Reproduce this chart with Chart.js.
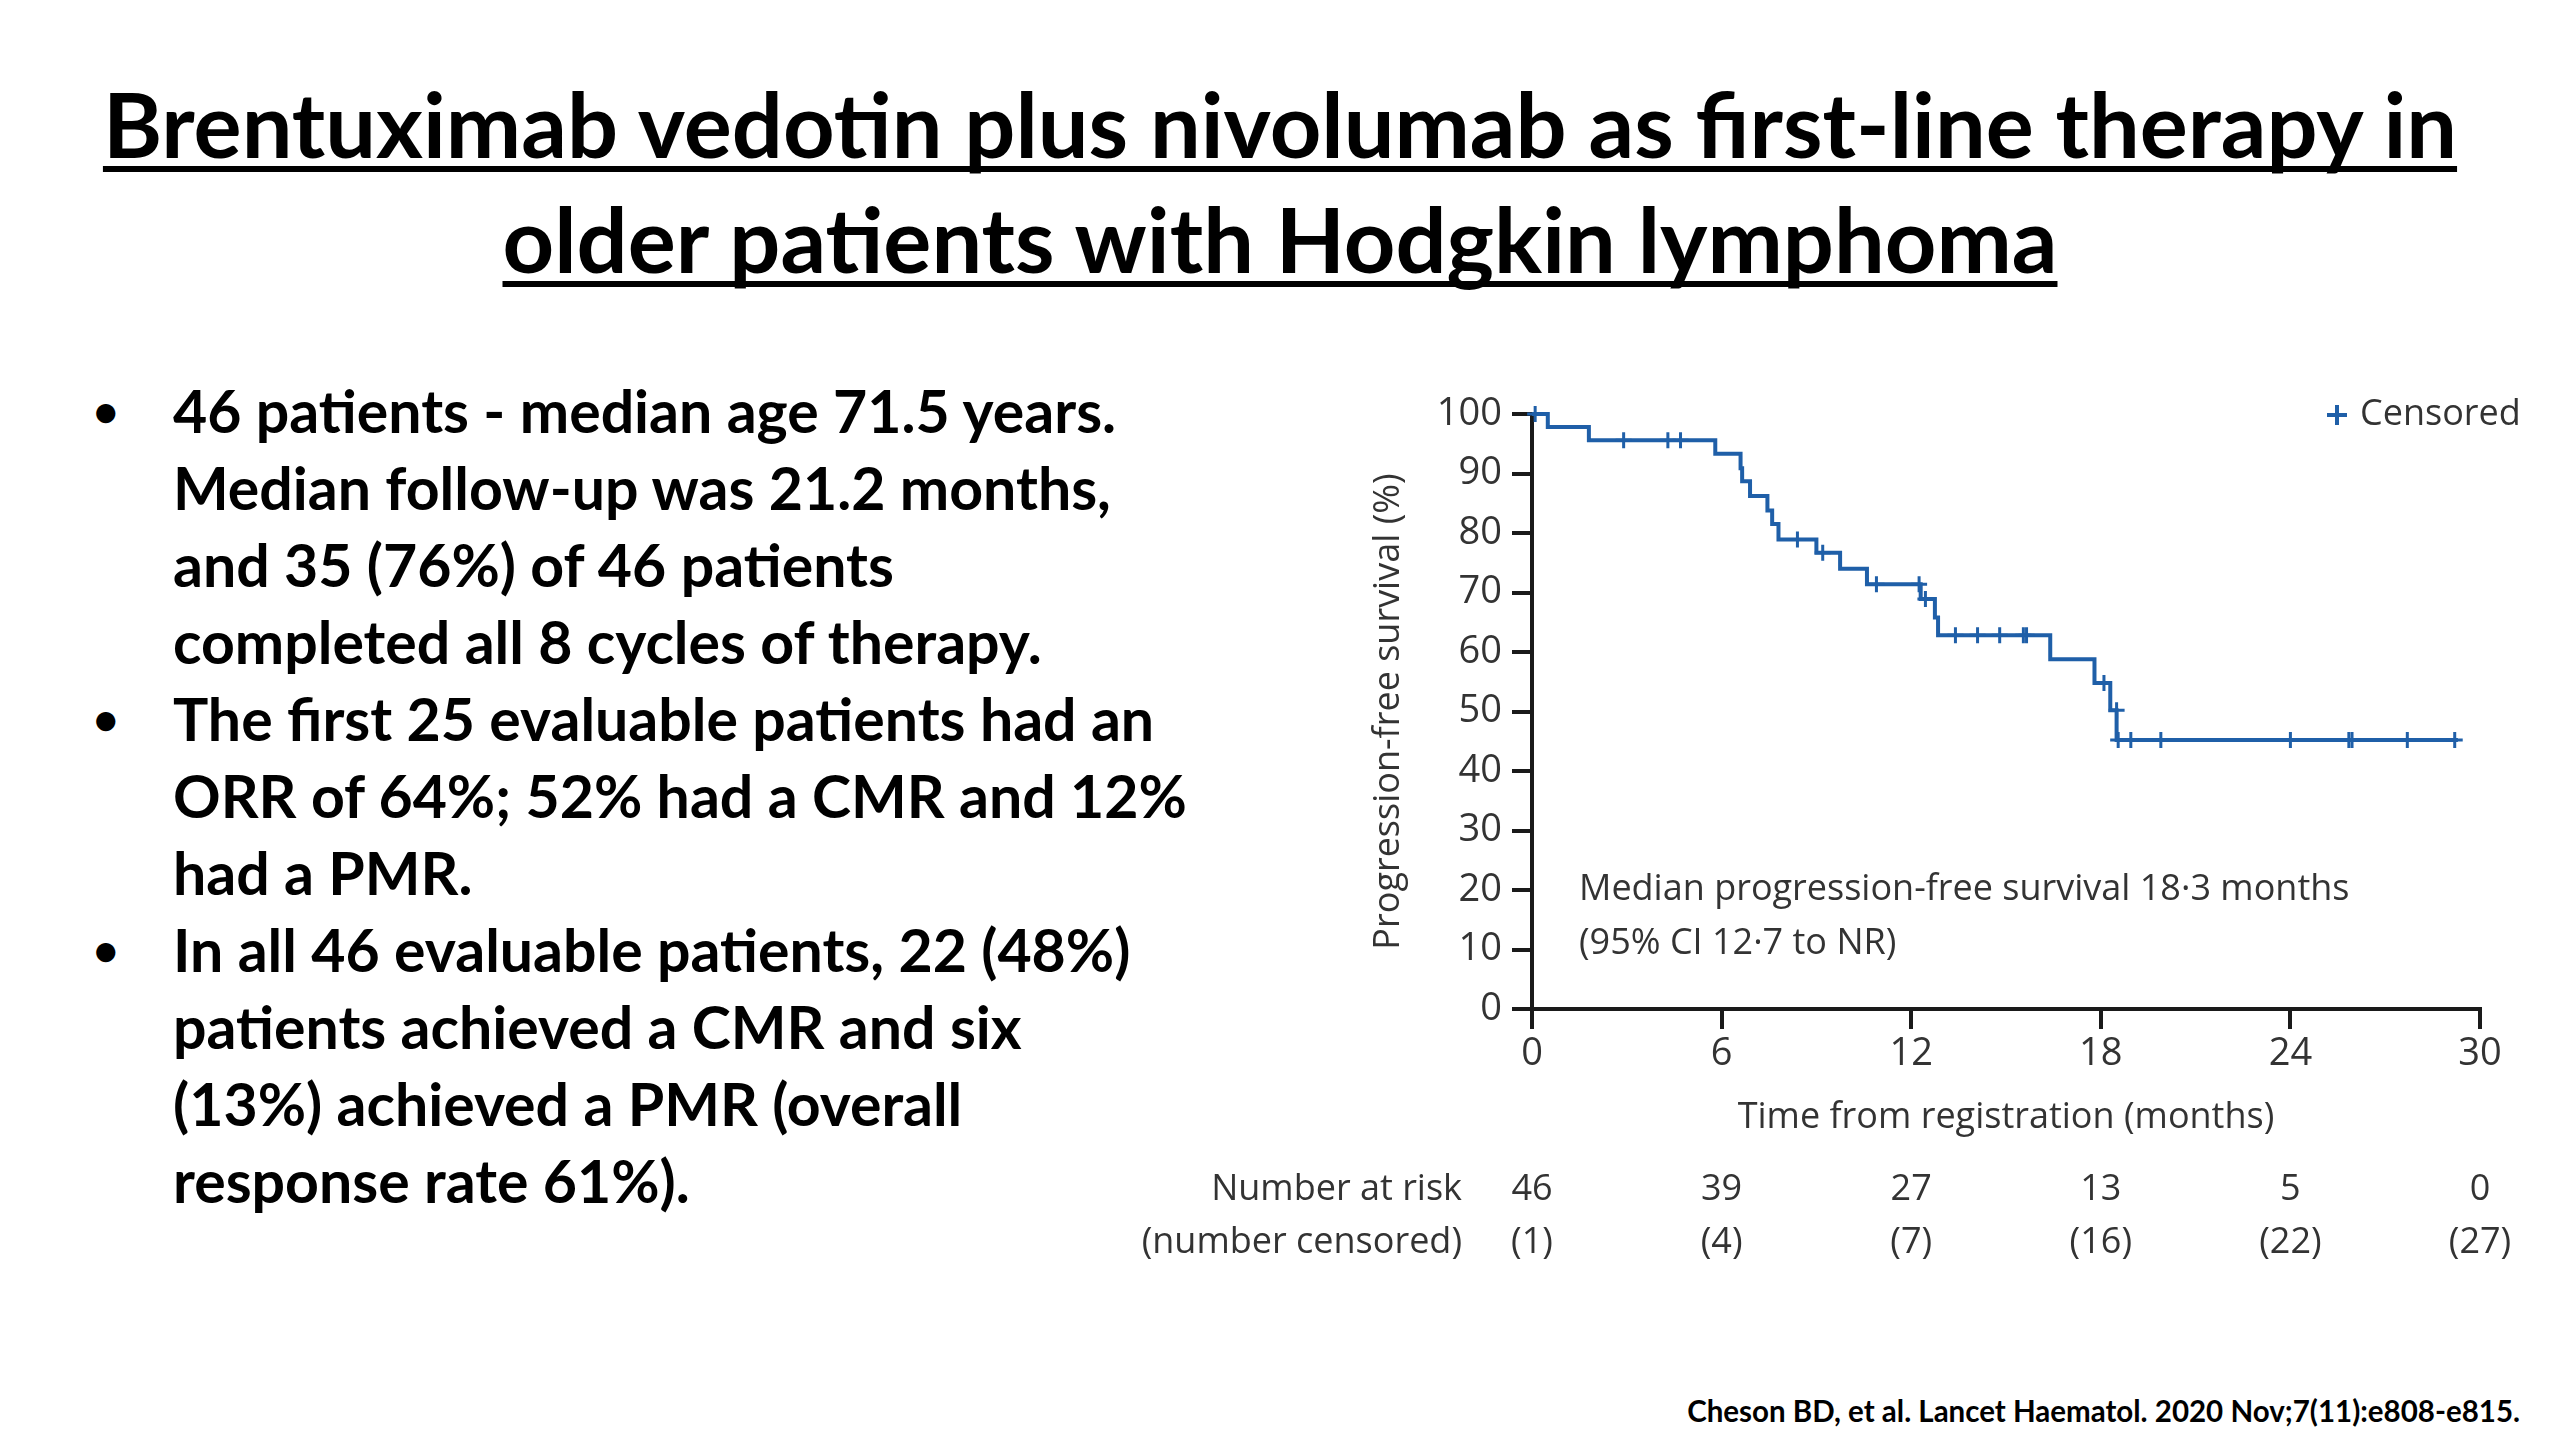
<!DOCTYPE html>
<html><head><meta charset="utf-8">
<script src="https://cdn.jsdelivr.net/npm/chart.js@4/dist/chart.umd.min.js"></script>
<style>
html,body{margin:0;padding:0;background:#fff;}
#wrap{position:relative;width:2560px;height:1440px;overflow:hidden;background:#fff;}
#c{position:absolute;left:0;top:0;}
.title{position:absolute;left:0;top:66px;width:2560px;text-align:center;font-family:Lato,sans-serif;font-weight:700;font-size:90px;color:#000;text-decoration:underline;text-decoration-thickness:6px;text-underline-offset:8px;text-decoration-skip-ink:none;line-height:115px;}
.bullets{position:absolute;left:173px;top:372px;font-family:Lato,sans-serif;font-weight:700;font-size:59px;line-height:77px;color:#000;white-space:nowrap;}
.b{position:relative;}
.b::before{content:"\2022";position:absolute;left:-80px;top:0;font-size:44px;}
.cite{position:absolute;right:40px;top:1394px;font-family:Lato,sans-serif;font-weight:700;font-size:29.5px;line-height:34px;color:#000;}
</style>
</head><body>
<div id="wrap">
<div class="title">Brentuximab vedotin plus nivolumab as first-line therapy in<br>older patients with Hodgkin lymphoma</div>
<div class="bullets">
<div class="b">46 patients - median age 71.5 years.<br>Median follow-up was 21.2 months,<br>and 35 (76%) of 46 patients<br>completed all 8 cycles of therapy.</div>
<div class="b">The first 25 evaluable patients had an<br>ORR of 64%; 52% had a CMR and 12%<br>had a PMR.</div>
<div class="b">In all 46 evaluable patients, 22 (48%)<br>patients achieved a CMR and six<br>(13%) achieved a PMR (overall<br>response rate 61%).</div>
</div>
<div class="cite">Cheson BD, et al. Lancet Haematol. 2020 Nov;7(11):e808-e815.</div>
<canvas id="c" width="2560" height="1440"></canvas>
</div>
<script>
// Kaplan-Meier steps (time in months, survival % after the step)
const kmTimes    = [0, 0.5, 1.8, 5.8, 6.6, 6.65, 6.9, 7.45, 7.6, 7.8, 9.0, 9.75, 10.6, 12.3, 12.75, 12.85, 16.4, 17.8, 18.3, 18.5, 29.3];
const kmSurvival = [100, 97.8, 95.6, 93.3, 90.9, 88.7, 86.2, 83.8, 81.5, 78.9, 76.7, 74.0, 71.4, 68.9, 65.8, 62.8, 58.8, 54.8, 50.2, 45.2, 45.2];
// Censor marks
const censorTimes    = [0.1, 2.9, 4.3, 4.7, 8.4, 9.2, 10.9, 12.25, 12.45, 13.4, 14.1, 14.8, 15.55, 15.65, 18.1, 18.5, 18.55, 18.95, 19.9, 24.0, 25.85, 25.95, 27.7, 29.2];
const censorSurvival = [100, 95.6, 95.6, 95.6, 78.9, 76.7, 71.4, 71.4, 68.9, 62.8, 62.8, 62.8, 62.8, 62.8, 54.8, 50.2, 45.2, 45.2, 45.2, 45.2, 45.2, 45.2, 45.2, 45.2];
// Number at risk table
const riskTimes = [0, 6, 12, 18, 24, 30];
const atRisk = [46, 39, 27, 13, 5, 0];
const censoredCum = [1, 4, 7, 16, 22, 27];
const riskLabels = ['Number at risk', '(number censored)'];
const xTicks = [0, 6, 12, 18, 24, 30];
const yTicks = [0, 10, 20, 30, 40, 50, 60, 70, 80, 90, 100];
const annotation = ['Median progression-free survival 18\u00B73 months', '(95% CI 12\u00B77 to NR)'];
const legendLabel = 'Censored';
const xTitle = 'Time from registration (months)';
const yTitle = 'Progression-free survival (%)';

const BLUE = '#1f5fa8';
const TXT = '#333333';
const FONT = "'Open Sans', sans-serif";

const extras = {
  id: 'extras',
  afterDraw(chart) {
    const ctx = chart.ctx, xs = chart.scales.x, ca = chart.chartArea;
    ctx.save();
    ctx.fillStyle = TXT;
    ctx.font = '36px ' + FONT;
    ctx.textBaseline = 'middle';
    // risk table
    ctx.textAlign = 'right';
    ctx.fillText(riskLabels[0], 1462, 1190);
    ctx.fillText(riskLabels[1], 1462, 1243);
    ctx.textAlign = 'center';
    riskTimes.forEach((t, i) => {
      const px = xs.getPixelForValue(t);
      ctx.fillText(String(atRisk[i]), px, 1190);
      ctx.fillText('(' + censoredCum[i] + ')', px, 1243);
    });
    // annotation
    ctx.textAlign = 'left';
    ctx.fillText(annotation[0], ca.left + 47, 890);
    ctx.fillText(annotation[1], ca.left + 47, 944);
    // legend
    ctx.fillText(legendLabel, 2360, 415);
    ctx.strokeStyle = BLUE; ctx.lineWidth = 4;
    ctx.beginPath();
    ctx.moveTo(2327, 415); ctx.lineTo(2347, 415);
    ctx.moveTo(2337, 405); ctx.lineTo(2337, 425);
    ctx.stroke();
    ctx.restore();
  }
};

new Chart(document.getElementById('c'), {
  type: 'scatter',
  data: {
    datasets: [
      {
        type: 'line',
        data: kmTimes.map((t, i) => ({x: t, y: kmSurvival[i]})),
        borderColor: BLUE, borderWidth: 4, stepped: 'before',
        pointRadius: 0, fill: false, clip: false, order: 2
      },
      {
        type: 'scatter',
        data: censorTimes.map((t, i) => ({x: t, y: censorSurvival[i]})),
        pointStyle: 'cross', pointRadius: 8, borderWidth: 3,
        borderColor: BLUE, backgroundColor: BLUE, clip: false, order: 1
      }
    ]
  },
  options: {
    responsive: false,
    animation: false,
    devicePixelRatio: 1,
    layout: {padding: {left: 1367, right: 80, top: 414, bottom: 291}},
    plugins: {legend: {display: false}, tooltip: {enabled: false}, title: {display: false}},
    scales: {
      x: {
        type: 'linear', min: 0, max: 30,
        afterBuildTicks: s => { s.ticks = xTicks.map(v => ({value: v})); },
        afterFit: s => { s.height = 140; },
        grid: {drawOnChartArea: false, drawTicks: true, tickLength: 20, color: '#1a1a1a', lineWidth: 4},
        border: {display: true, color: '#1a1a1a', width: 4},
        ticks: {color: TXT, font: {family: FONT, size: 38}, padding: 2, maxRotation: 0},
        title: {display: true, text: xTitle, color: TXT, font: {family: FONT, size: 36}, padding: {top: 0, bottom: 10}}
      },
      y: {
        type: 'linear', min: 0, max: 100,
        afterBuildTicks: s => { s.ticks = yTicks.map(v => ({value: v})); },
        afterFit: s => { s.width = 165; },
        grid: {drawOnChartArea: false, drawTicks: true, tickLength: 20, color: '#1a1a1a', lineWidth: 4},
        border: {display: true, color: '#1a1a1a', width: 4},
        ticks: {color: TXT, font: {family: FONT, size: 38}, padding: 10},
        title: {display: true, text: yTitle, color: TXT, font: {family: FONT, size: 36}, padding: {top: 0, bottom: 0}}
      }
    }
  },
  plugins: [extras]
});
</script>
</body></html>
